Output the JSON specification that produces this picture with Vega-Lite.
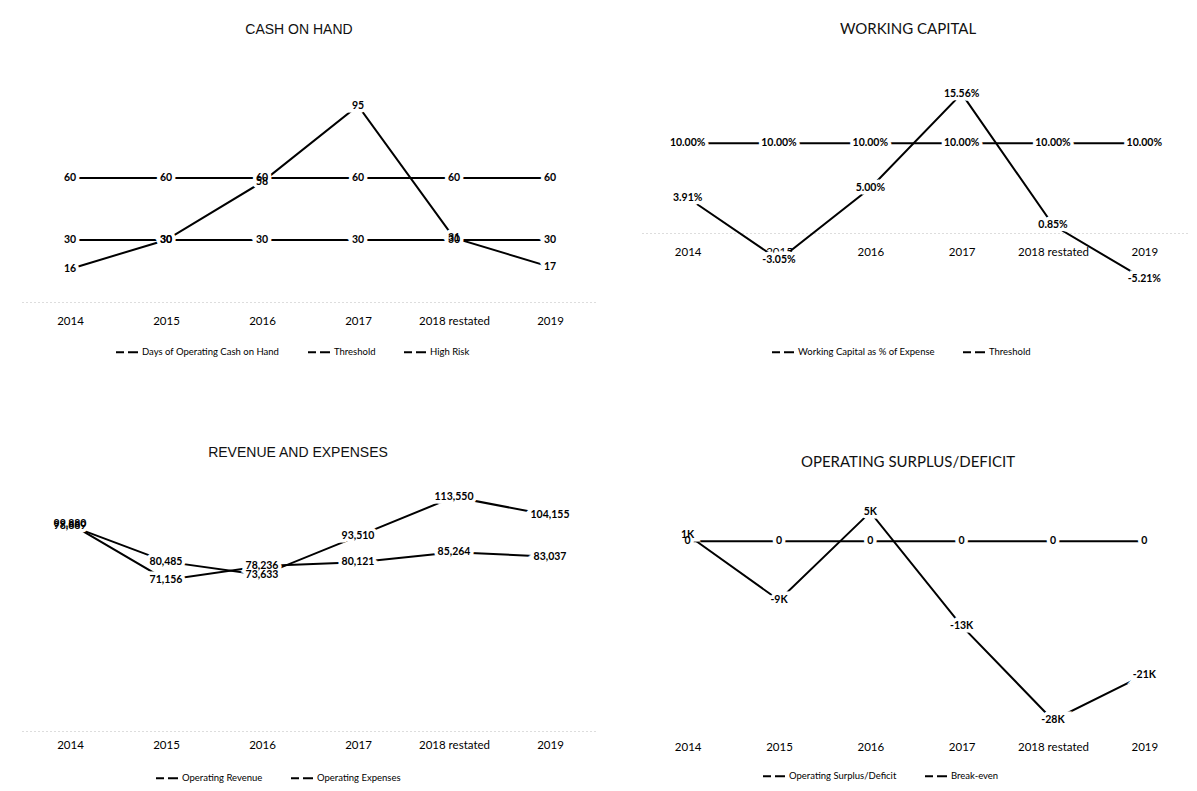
{
  "$schema": "https://vega.github.io/schema/vega-lite/v6.json",
  "background": "white",
  "padding": {"left": 22, "top": 22, "right": 5, "bottom": 4},
  "config": {
    "view": {"stroke": null},
    "title": {"font": "Liberation Sans", "fontSize": 14, "fontWeight": "normal", "color": "#111111"},
    "axis": {"labelFont": "Lato", "labelFontSize": 11.5, "labelColor": "#000000", "domain": false, "ticks": false, "grid": false, "title": null, "labelAngle": 0},
    "legend": {"orient": "none", "direction": "horizontal", "title": null, "symbolType": "stroke", "symbolStrokeWidth": 2.5, "symbolSize": 484, "symbolDash": [8, 4, 10], "labelOffset": 3, "labelFont": "Lato", "labelFontSize": 9.5, "labelColor": "#000000", "columnPadding": 24},
    "line": {"strokeWidth": 2}
  },
  "datasets": {
    "cash": [
      {"year": "2014", "series": "Days of Operating Cash on Hand", "value": 16},
      {"year": "2015", "series": "Days of Operating Cash on Hand", "value": 30},
      {"year": "2016", "series": "Days of Operating Cash on Hand", "value": 58},
      {"year": "2017", "series": "Days of Operating Cash on Hand", "value": 95},
      {"year": "2018 restated", "series": "Days of Operating Cash on Hand", "value": 31},
      {"year": "2019", "series": "Days of Operating Cash on Hand", "value": 17},
      {"year": "2014", "series": "Threshold", "value": 60},
      {"year": "2015", "series": "Threshold", "value": 60},
      {"year": "2016", "series": "Threshold", "value": 60},
      {"year": "2017", "series": "Threshold", "value": 60},
      {"year": "2018 restated", "series": "Threshold", "value": 60},
      {"year": "2019", "series": "Threshold", "value": 60},
      {"year": "2014", "series": "High Risk", "value": 30},
      {"year": "2015", "series": "High Risk", "value": 30},
      {"year": "2016", "series": "High Risk", "value": 30},
      {"year": "2017", "series": "High Risk", "value": 30},
      {"year": "2018 restated", "series": "High Risk", "value": 30},
      {"year": "2019", "series": "High Risk", "value": 30}
    ],
    "wc": [
      {"year": "2014", "series": "Working Capital as % of Expense", "value": 3.91},
      {"year": "2015", "series": "Working Capital as % of Expense", "value": -3.05},
      {"year": "2016", "series": "Working Capital as % of Expense", "value": 5.00},
      {"year": "2017", "series": "Working Capital as % of Expense", "value": 15.56},
      {"year": "2018 restated", "series": "Working Capital as % of Expense", "value": 0.85},
      {"year": "2019", "series": "Working Capital as % of Expense", "value": -5.21},
      {"year": "2014", "series": "Threshold", "value": 10},
      {"year": "2015", "series": "Threshold", "value": 10},
      {"year": "2016", "series": "Threshold", "value": 10},
      {"year": "2017", "series": "Threshold", "value": 10},
      {"year": "2018 restated", "series": "Threshold", "value": 10},
      {"year": "2019", "series": "Threshold", "value": 10}
    ],
    "rev": [
      {"year": "2014", "series": "Operating Revenue", "value": 99880},
      {"year": "2015", "series": "Operating Revenue", "value": 71156},
      {"year": "2016", "series": "Operating Revenue", "value": 78236},
      {"year": "2017", "series": "Operating Revenue", "value": 80121},
      {"year": "2018 restated", "series": "Operating Revenue", "value": 85264},
      {"year": "2019", "series": "Operating Revenue", "value": 83037},
      {"year": "2014", "series": "Operating Expenses", "value": 98889},
      {"year": "2015", "series": "Operating Expenses", "value": 80485},
      {"year": "2016", "series": "Operating Expenses", "value": 73633},
      {"year": "2017", "series": "Operating Expenses", "value": 93510},
      {"year": "2018 restated", "series": "Operating Expenses", "value": 113550},
      {"year": "2019", "series": "Operating Expenses", "value": 104155}
    ],
    "surplus": [
      {"year": "2014", "series": "Operating Surplus/Deficit", "value": 991},
      {"year": "2015", "series": "Operating Surplus/Deficit", "value": -9329},
      {"year": "2016", "series": "Operating Surplus/Deficit", "value": 4603},
      {"year": "2017", "series": "Operating Surplus/Deficit", "value": -13389},
      {"year": "2018 restated", "series": "Operating Surplus/Deficit", "value": -28286},
      {"year": "2019", "series": "Operating Surplus/Deficit", "value": -21118},
      {"year": "2014", "series": "Break-even", "value": 0},
      {"year": "2015", "series": "Break-even", "value": 0},
      {"year": "2016", "series": "Break-even", "value": 0},
      {"year": "2017", "series": "Break-even", "value": 0},
      {"year": "2018 restated", "series": "Break-even", "value": 0},
      {"year": "2019", "series": "Break-even", "value": 0}
    ]
  },
  "columns": 2,
  "spacing": {"row": 156, "column": 44},
  "bounds": "flush",
  "concat": [
    {
      "title": {"text": "CASH ON HAND", "offset": 17, "dx": -11},
      "width": 576, "height": 248,
      "data": {"name": "cash"},
      "encoding": {
        "x": {"field": "year", "type": "nominal", "sort": ["2014", "2015", "2016", "2017", "2018 restated", "2019"], "axis": {"labelPadding": 13, "domain": true, "domainColor": "#bbbbbb", "domainDash": [1, 3]}},
        "y": {"field": "value", "type": "quantitative", "scale": {"domain": [0, 120]}, "axis": null}
      },
      "layer": [
        {"mark": {"type": "line"}, "encoding": {"color": {"field": "series", "type": "nominal", "scale": {"domain": ["Days of Operating Cash on Hand", "Threshold", "High Risk"], "range": ["#000000", "#000000", "#000000"]}, "legend": {"legendX": 93, "legendY": 286}}}},
        {"mark": {"type": "text", "font": "Lato", "fontSize": 10.5, "fontWeight": "bold", "fill": "white", "stroke": "white", "strokeWidth": 7}, "encoding": {"text": {"field": "value", "type": "quantitative", "format": "d"}}},
        {"mark": {"type": "text", "font": "Lato", "fontSize": 10.5, "fontWeight": "bold", "fill": "#000000"}, "encoding": {"text": {"field": "value", "type": "quantitative", "format": "d"}}}
      ]
    },
    {
      "title": {"text": "WORKING CAPITAL", "offset": 17, "font": "Lato", "fontSize": 15, "dx": -8},
      "width": 548, "height": 268,
      "data": {"name": "wc"},
      "transform": [{"calculate": "(datum.value < 0 ? '-' : '') + format(abs(datum.value), '.2f') + '%'", "as": "label"}],
      "encoding": {
        "x": {"field": "year", "type": "nominal", "sort": ["2014", "2015", "2016", "2017", "2018 restated", "2019"], "axis": {"labelPadding": 13, "offset": -89, "domain": true, "domainColor": "#bbbbbb", "domainDash": [1, 3]}},
        "y": {"field": "value", "type": "quantitative", "scale": {"domain": [-10, 20]}, "axis": null}
      },
      "layer": [
        {"mark": {"type": "line"}, "encoding": {"color": {"field": "series", "type": "nominal", "scale": {"domain": ["Working Capital as % of Expense", "Threshold"], "range": ["#000000", "#000000"]}, "legend": {"legendX": 129, "legendY": 286}}}},
        {"mark": {"type": "text", "font": "Lato", "fontSize": 10.5, "fontWeight": "bold", "fill": "white", "stroke": "white", "strokeWidth": 7}, "encoding": {"text": {"field": "label"}}},
        {"mark": {"type": "text", "font": "Lato", "fontSize": 10.5, "fontWeight": "bold", "fill": "#000000"}, "encoding": {"text": {"field": "label"}}}
      ]
    },
    {
      "title": {"text": "REVENUE AND EXPENSES", "offset": 18, "dx": -12},
      "width": 576, "height": 253,
      "data": {"name": "rev"},
      "encoding": {
        "x": {"field": "year", "type": "nominal", "sort": ["2014", "2015", "2016", "2017", "2018 restated", "2019"], "axis": {"labelPadding": 8, "domain": true, "domainColor": "#bbbbbb", "domainDash": [1, 3]}},
        "y": {"field": "value", "type": "quantitative", "scale": {"domain": [-6000, 123200]}, "axis": null}
      },
      "layer": [
        {"mark": {"type": "line"}, "encoding": {"color": {"field": "series", "type": "nominal", "scale": {"domain": ["Operating Revenue", "Operating Expenses"], "range": ["#000000", "#000000"]}, "legend": {"legendX": 133, "legendY": 288}}}},
        {"mark": {"type": "text", "font": "Lato", "fontSize": 10.5, "fontWeight": "bold", "fill": "white", "stroke": "white", "strokeWidth": 7}, "encoding": {"text": {"field": "value", "type": "quantitative", "format": ","}}},
        {"mark": {"type": "text", "font": "Lato", "fontSize": 10.5, "fontWeight": "bold", "fill": "#000000"}, "encoding": {"text": {"field": "value", "type": "quantitative", "format": ","}}}
      ]
    },
    {
      "title": {"text": "OPERATING SURPLUS/DEFICIT", "offset": 8, "font": "Lato", "fontSize": 15, "dx": -8},
      "width": 548, "height": 253,
      "data": {"name": "surplus"},
      "transform": [{"calculate": "datum.value == 0 ? '0' : '' + round(datum.value / 1000) + 'K'", "as": "label"}],
      "encoding": {
        "x": {"field": "year", "type": "nominal", "sort": ["2014", "2015", "2016", "2017", "2018 restated", "2019"], "axis": {"labelPadding": 10}},
        "y": {"field": "value", "type": "quantitative", "scale": {"domain": [-30000, 10000]}, "axis": null}
      },
      "layer": [
        {"mark": {"type": "line"}, "encoding": {"color": {"field": "series", "type": "nominal", "scale": {"domain": ["Operating Surplus/Deficit", "Break-even"], "range": ["#000000", "#000000"]}, "legend": {"legendX": 120, "legendY": 286}}}},
        {"mark": {"type": "text", "font": "Lato", "fontSize": 10.5, "fontWeight": "bold", "fill": "white", "stroke": "white", "strokeWidth": 7}, "encoding": {"text": {"field": "label"}}},
        {"mark": {"type": "text", "font": "Lato", "fontSize": 10.5, "fontWeight": "bold", "fill": "#000000"}, "encoding": {"text": {"field": "label"}}}
      ]
    }
  ],
  "resolve": {"scale": {"color": "independent", "x": "independent", "y": "independent"}, "legend": {"color": "independent"}}
}
